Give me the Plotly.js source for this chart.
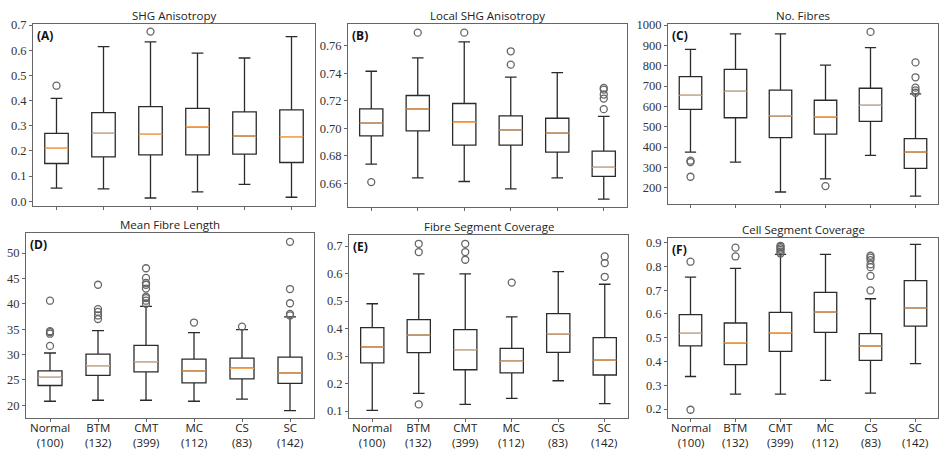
<!DOCTYPE html>
<html>
<head>
<meta charset="utf-8">
<script src="https://cdn.plot.ly/plotly-3.0.1.min.js"></script>
<style>html,body{margin:0;padding:0;background:#fff;}#chart{width:941px;height:450px;}</style>
</head>
<body>
<div id="chart"></div>
<script>
// ---------- data ----------
const categories = ['Normal', 'BTM', 'CMT', 'MC', 'CS', 'SC'];
const counts = [100, 132, 399, 112, 83, 142];

// (A) SHG Anisotropy
const shgLow  = [0.052, 0.049, 0.013, 0.037, 0.067, 0.016];
const shgQ1   = [0.150, 0.176, 0.184, 0.184, 0.187, 0.154];
const shgMed  = [0.210, 0.270, 0.266, 0.296, 0.259, 0.257];
const shgQ3   = [0.270, 0.352, 0.376, 0.369, 0.355, 0.363];
const shgHigh = [0.409, 0.614, 0.633, 0.588, 0.569, 0.654];
const shgOut  = [[0.459], [], [0.674], [], [], []];

// (B) Local SHG Anisotropy
const locLow  = [0.6740, 0.6641, 0.6614, 0.6561, 0.6641, 0.6486];
const locQ1   = [0.6945, 0.6982, 0.6878, 0.6878, 0.6827, 0.6651];
const locMed  = [0.7037, 0.7141, 0.7044, 0.6989, 0.6965, 0.6716];
const locQ3   = [0.7141, 0.7238, 0.7180, 0.7090, 0.7073, 0.6834];
const locHigh = [0.7414, 0.7511, 0.7627, 0.7371, 0.7404, 0.7086];
const locOut  = [[0.6610], [0.7694], [0.7694], [0.7559, 0.7462], [], [0.7293, 0.7281, 0.7245, 0.7216, 0.7139]];

// (C) No. Fibres
const nfLow  = [375, 326, 179, 244, 359, 159];
const nfQ1   = [585, 544, 446, 464, 526, 295];
const nfMed  = [654, 674, 554, 549, 605, 375];
const nfQ3   = [746, 782, 680, 630, 689, 441];
const nfHigh = [880, 956, 956, 803, 889, 661];
const nfOut  = [[333, 326, 254], [], [], [208], [966], [816, 743, 692, 679, 667]];

// (D) Mean Fibre Length
const mflLow  = [20.8, 21.0, 21.0, 20.8, 21.2, 18.95];
const mflQ1   = [23.9, 25.9, 26.6, 24.4, 25.2, 24.3];
const mflMed  = [25.5, 27.8, 28.6, 26.8, 27.3, 26.4];
const mflQ3   = [26.8, 30.1, 31.8, 29.1, 29.3, 29.5];
const mflHigh = [30.3, 34.7, 39.5, 34.3, 34.9, 37.4];
const mflOut  = [[40.6, 34.6, 34.4, 34.1, 31.7], [43.75, 38.95, 38.4, 37.7, 37.0],
                 [47.0, 45.1, 44.1, 43.75, 43.0, 41.4, 41.1, 40.6, 40.0], [36.3], [35.5],
                 [52.2, 42.9, 40.1, 38.0, 37.7]];

// (E) Fibre Segment Coverage
const fscLow  = [0.102, 0.164, 0.124, 0.146, 0.210, 0.127];
const fscQ1   = [0.275, 0.312, 0.250, 0.239, 0.313, 0.231];
const fscMed  = [0.333, 0.376, 0.323, 0.281, 0.381, 0.285];
const fscQ3   = [0.403, 0.432, 0.396, 0.328, 0.454, 0.367];
const fscHigh = [0.490, 0.599, 0.599, 0.442, 0.607, 0.561];
const fscOut  = [[], [0.708, 0.678, 0.124], [0.708, 0.678, 0.650], [0.567], [], [0.662, 0.638, 0.588]];

// (F) Cell Segment Coverage
const cscLow  = [0.337, 0.263, 0.263, 0.321, 0.267, 0.391];
const cscQ1   = [0.466, 0.387, 0.443, 0.523, 0.405, 0.549];
const cscMed  = [0.518, 0.479, 0.521, 0.608, 0.465, 0.626];
const cscQ3   = [0.597, 0.562, 0.607, 0.691, 0.517, 0.740];
const cscHigh = [0.755, 0.792, 0.851, 0.851, 0.664, 0.893];
const cscOut  = [[0.820, 0.197], [0.879, 0.842], [0.887, 0.882, 0.876, 0.870, 0.862, 0.854], [],
                 [0.845, 0.837, 0.827, 0.809, 0.797, 0.760, 0.699], []];

// ---------- layout helpers ----------
const W = 941, H = 450;
const px = x => x / W;
const py = y => 1 - y / H;

const panels = [
  {title: 'SHG Anisotropy', tag: '(A)', low: shgLow, q1: shgQ1, med: shgMed, q3: shgQ3, high: shgHigh, out: shgOut,
   range: [-0.0187, 0.704], dtick: 0.1, tick0: 0, fmt: '.1f', box: [33, 315, 24, 206], bottom: false},
  {title: 'Local SHG Anisotropy', tag: '(B)', low: locLow, q1: locQ1, med: locMed, q3: locQ3, high: locHigh, out: locOut,
   range: [0.6429, 0.7757], dtick: 0.02, tick0: 0.66, fmt: '.2f', box: [348, 627, 24, 207], bottom: false},
  {title: 'No. Fibres', tag: '(C)', low: nfLow, q1: nfQ1, med: nfMed, q3: nfQ3, high: nfHigh, out: nfOut,
   range: [120, 1005], dtick: 100, tick0: 0, fmt: 'd', box: [668, 938, 24, 204], bottom: false},
  {title: 'Mean Fibre Length', tag: '(D)', low: mflLow, q1: mflQ1, med: mflMed, q3: mflQ3, high: mflHigh, out: mflOut,
   range: [17.44, 53.94], dtick: 5, tick0: 0, fmt: 'd', box: [26, 314, 233, 418.3], bottom: true},
  {title: 'Fibre Segment Coverage', tag: '(E)', low: fscLow, q1: fscQ1, med: fscMed, q3: fscQ3, high: fscHigh, out: fscOut,
   range: [0.0735, 0.740], dtick: 0.1, tick0: 0, fmt: '.1f', box: [349, 628, 235, 418.3], bottom: true},
  {title: 'Cell Segment Coverage', tag: '(F)', low: cscLow, q1: cscQ1, med: cscMed, q3: cscQ3, high: cscHigh, out: cscOut,
   range: [0.161, 0.921], dtick: 0.1, tick0: 0, fmt: '.1f', box: [668, 938, 237.7, 418.3], bottom: true}
];

const data = [];
const layout = {
  width: W, height: H,
  margin: {l: 0, r: 0, t: 0, b: 0},
  paper_bgcolor: '#fff', plot_bgcolor: '#fff',
  showlegend: false,
  boxmode: 'overlay',
  hovermode: false,
  annotations: []
};

const sansFont = 'Open Sans, Noto Sans, sans-serif';
const serifFont = 'Liberation Serif, Times New Roman, Times, serif';

panels.forEach((p, k) => {
  const n = k + 1;
  const xa = 'x' + (n === 1 ? '' : n);
  const ya = 'y' + (n === 1 ? '' : n);

  // box + whiskers
  data.push({
    type: 'box', xaxis: xa, yaxis: ya,
    x: categories, q1: p.q1, median: p.med, q3: p.q3, lowerfence: p.low, upperfence: p.high,
    width: 0.5, whiskerwidth: 0.5, boxpoints: false,
    line: {color: '#2b2b2b', width: 1.3},
    fillcolor: 'rgba(255,255,255,0)'
  });
  // median line (orange)
  data.push({
    type: 'box', xaxis: xa, yaxis: ya,
    x: categories, q1: p.med, median: p.med, q3: p.med, lowerfence: p.med, upperfence: p.med,
    width: 0.5, whiskerwidth: 0, boxpoints: false,
    line: {color: '#f3a85f', width: 1.3},
    fillcolor: 'rgba(255,255,255,0)'
  });
  // outliers
  const ox = [], oy = [];
  p.out.forEach((vals, i) => vals.forEach(v => { ox.push(categories[i]); oy.push(v); }));
  data.push({
    type: 'scatter', mode: 'markers', xaxis: xa, yaxis: ya,
    x: ox, y: oy,
    marker: {symbol: 'circle-open', size: 7, color: '#666', line: {width: 1.3, color: '#666'}}
  });

  const [x0, x1, y0, y1] = p.box;
  layout['xaxis' + (n === 1 ? '' : n)] = {
    domain: [px(x0), px(x1)], anchor: ya,
    type: 'category', categoryorder: 'array', categoryarray: categories,
    range: [-0.5, 5.5],
    showgrid: false, zeroline: false,
    showline: true, mirror: true, linecolor: '#666', linewidth: 1,
    ticks: 'outside', ticklen: 3, tickcolor: '#666',
    showticklabels: false,
    fixedrange: true
  };
  layout['yaxis' + (n === 1 ? '' : n)] = {
    domain: [py(y1), py(y0)], anchor: xa,
    range: p.range, tick0: p.tick0, dtick: p.dtick, tickformat: p.fmt,
    showgrid: false, zeroline: false,
    showline: true, mirror: true, linecolor: '#666', linewidth: 1,
    ticks: 'outside', ticklen: 3, tickcolor: '#666',
    tickfont: {family: serifFont, size: 12.5, color: '#333'},
    fixedrange: true
  };
  // category labels with sample sizes (bottom row)
  if (p.bottom) {
    categories.forEach((c, i) => {
      layout.annotations.push({
        text: c + '<br>(' + counts[i] + ')', xref: xa, yref: 'paper',
        x: c, y: py(434.5), xanchor: 'center', yanchor: 'middle',
        showarrow: false, borderpad: 0,
        font: {family: sansFont, size: 11.5, color: '#222'}
      });
    });
  }
  // subplot title
  layout.annotations.push({
    text: p.title, xref: 'paper', yref: 'paper',
    x: px((x0 + x1) / 2), y: py(y0 - 8.5), xanchor: 'center', yanchor: 'middle',
    showarrow: false, font: {family: sansFont, size: 11.5, color: '#222'}
  });
  // panel tag
  layout.annotations.push({
    text: '<b>' + p.tag + '</b>', xref: 'paper', yref: 'paper',
    x: px(x0 + 2), y: py(y0 + 1), xanchor: 'left', yanchor: 'top',
    showarrow: false, font: {family: sansFont, size: 12, color: '#111'}
  });
});

Plotly.newPlot('chart', data, layout, {displayModeBar: false, staticPlot: true});
</script>
</body>
</html>
